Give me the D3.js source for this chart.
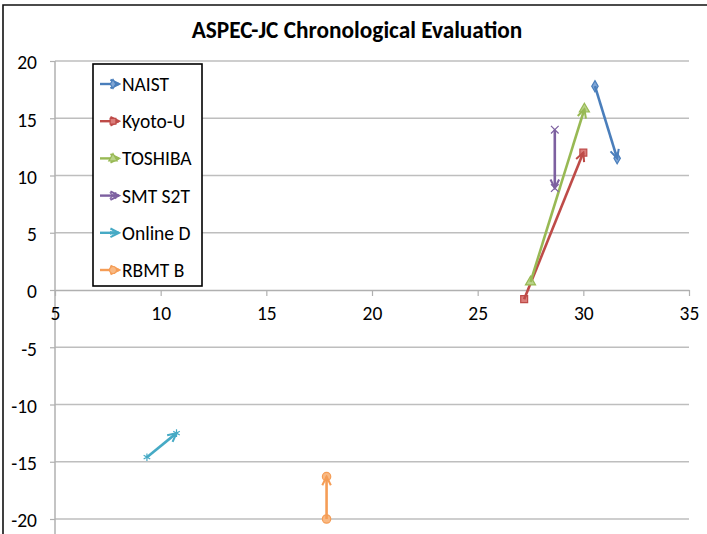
<!DOCTYPE html>
<html>
<head>
<meta charset="utf-8">
<script src="https://cdn.jsdelivr.net/npm/d3@7"></script>
<style>
  html, body { margin: 0; padding: 0; background: #fff; }
  svg { display: block; font-family: Carlito, Lato, "Open Sans", sans-serif; }
</style>
</head>
<body>
<svg id="chart" width="707" height="534"></svg>
<script>
// Systems evaluated, in legend order
const systems = ["NAIST", "Kyoto-U", "TOSHIBA", "SMT S2T", "Online D", "RBMT B"];
// Earlier evaluation (x, y) and later evaluation (x, y) for each system
const xFrom = [30.55, 27.2, 27.5, 28.65, 9.35, 17.85];
const yFrom = [17.8, -0.8, 0.7, 14.0, -14.6, -20.0];
const xTo   = [31.6, 30.0, 30.05, 28.65, 10.75, 17.85];
const yTo   = [11.5, 12.0, 15.8, 8.9, -12.5, -16.3];
// Axis ticks
const xTicks = [5, 10, 15, 20, 25, 30, 35];
const yTicks = [-20, -15, -10, -5, 0, 5, 10, 15, 20];

const colors  = ["#4A7EBB", "#BE4B48", "#98B954", "#7D60A0", "#46AAC5", "#F59D56"];
const fills   = ["#7FA6D6", "#DB7D7A", "#B9D389", "#A48CC0", "#82C8DA", "#F9B983"];
const symbols = [d3.symbolDiamond, d3.symbolSquare, d3.symbolTriangle, d3.symbolTimes, d3.symbolAsterisk, d3.symbolCircle];
const symSize = [36, 48, 44, 40, 40, 55];

const svg = d3.select("#chart");
const x = d3.scaleLinear().domain([5, 35]).range([55, 689]);
const y = d3.scaleLinear().domain([-20, 20]).range([519, 61]);
const font = "Carlito, Lato, 'Open Sans', sans-serif";
const plain = d => String(d); // hyphen-minus for negative labels

// Outer frame (left and top edges)
svg.append("path")
  .attr("d", "M3,534 L3,5 L707,5")
  .attr("fill", "none").attr("stroke", "#111").attr("stroke-width", 1.6);

// Title
svg.append("text")
  .attr("x", 357).attr("y", 38)
  .attr("text-anchor", "middle")
  .attr("font-size", 23.3).attr("font-weight", "bold").attr("fill", "#000")
  .text("ASPEC-JC Chronological Evaluation");

// Horizontal gridlines
svg.append("g").selectAll("line").data(yTicks.filter(v => v !== 0)).join("line")
  .attr("x1", x(5)).attr("x2", x(35))
  .attr("y1", d => y(d)).attr("y2", d => y(d))
  .attr("stroke", "#BEBEBE").attr("stroke-width", 1.5);

// Y axis
const yAxis = svg.append("g")
  .attr("transform", `translate(${x(5)},0)`)
  .call(d3.axisLeft(y).tickValues(yTicks).tickFormat(plain).tickSize(5).tickPadding(13).tickSizeOuter(0));
yAxis.select(".domain").attr("stroke", "#B0B0B0").attr("stroke-width", 1.5)
  .attr("d", `M0,${y(20)}V534`);
yAxis.selectAll(".tick line").attr("stroke", "#B0B0B0").attr("stroke-width", 1.2);
yAxis.selectAll(".tick text").attr("font-size", 19.5).attr("fill", "#000")
  .attr("font-family", font).attr("dy", "0.4em");

// X axis through y = 0
const xAxis = svg.append("g")
  .attr("transform", `translate(0,${y(0)})`)
  .call(d3.axisBottom(x).tickValues(xTicks).tickFormat(plain).tickSize(6).tickPadding(10).tickSizeOuter(0));
xAxis.select(".domain").attr("stroke", "#B0B0B0").attr("stroke-width", 1.5);
xAxis.selectAll(".tick line").attr("stroke", "#B0B0B0").attr("stroke-width", 1.2);
xAxis.selectAll(".tick text").attr("font-size", 19.5).attr("fill", "#000")
  .attr("font-family", font);

// Open arrowheads, one per colour
const defs = svg.append("defs");
colors.forEach((c, i) => {
  defs.append("marker")
    .attr("id", "arrow" + i)
    .attr("viewBox", "-1 -1 14 14")
    .attr("refX", 11).attr("refY", 6)
    .attr("markerWidth", 12).attr("markerHeight", 12)
    .attr("markerUnits", "userSpaceOnUse")
    .attr("orient", "auto")
    .append("path")
    .attr("d", "M1,1 L11,6 L1,11")
    .attr("fill", "none").attr("stroke", c).attr("stroke-width", 2.4)
    .attr("stroke-linejoin", "miter");
});

const rows = systems.map((s, i) => ({ i, s, x0: xFrom[i], y0: yFrom[i], x1: xTo[i], y1: yTo[i] }));

function drawMarker(g, i, cx, cy, scale) {
  g.append("path")
    .attr("d", d3.symbol().type(symbols[i]).size(symSize[i] * (scale || 1))())
    .attr("transform", `translate(${cx},${cy})`)
    .attr("fill", fills[i]).attr("stroke", colors[i]).attr("stroke-width", 1.2);
}

const plot = svg.append("g");
rows.forEach(r => {
  const g = plot.append("g");
  drawMarker(g, r.i, x(r.x0), y(r.y0));
  drawMarker(g, r.i, x(r.x1), y(r.y1));
  g.append("line")
    .attr("x1", x(r.x0)).attr("y1", y(r.y0))
    .attr("x2", x(r.x1)).attr("y2", y(r.y1))
    .attr("stroke", colors[r.i]).attr("stroke-width", 2.6)
    .attr("marker-end", `url(#arrow${r.i})`);
});

// Legend
const legend = svg.append("g");
legend.append("rect")
  .attr("x", 93).attr("y", 64).attr("width", 109).attr("height", 222)
  .attr("fill", "#fff").attr("stroke", "#000").attr("stroke-width", 1.6);
const legendY = d3.scalePoint().domain(systems).range([84, 270]);
rows.forEach(r => {
  const ly = legendY(r.s);
  const g = legend.append("g");
  g.append("line")
    .attr("x1", 100).attr("y1", ly).attr("x2", 119).attr("y2", ly)
    .attr("stroke", colors[r.i]).attr("stroke-width", 2.4)
    .attr("marker-end", `url(#arrow${r.i})`);
  drawMarker(g, r.i, 113, ly, 0.7);
  g.append("text")
    .attr("x", 122).attr("y", ly).attr("dy", "0.36em")
    .attr("font-size", 19.5).attr("fill", "#000")
    .text(r.s);
});
</script>
</body>
</html>
